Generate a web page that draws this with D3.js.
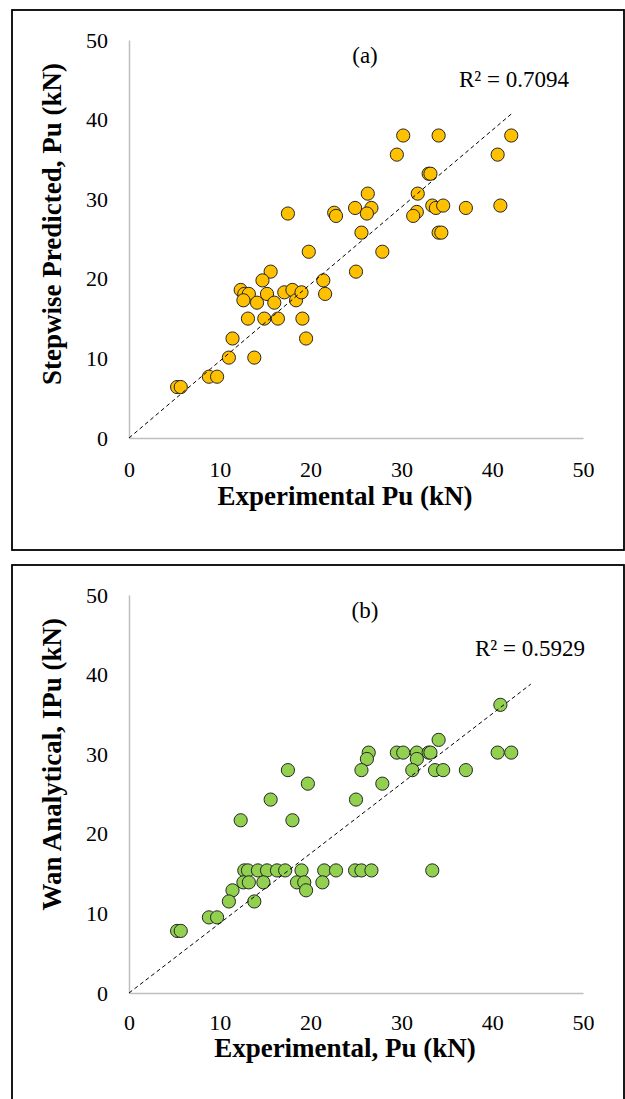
<!DOCTYPE html>
<html>
<head>
<meta charset="utf-8">
<script src="https://cdn.jsdelivr.net/npm/d3@7"></script>
<style>
  html, body { margin: 0; padding: 0; background: #ffffff; }
  svg { display: block; }
</style>
</head>
<body>
<div id="chart"></div>
<script>
// Panel (a): experimental vs stepwise predicted Pu (kN)
const expA = [
  30.2, 34.1, 42.1, 29.5, 40.6, 33.0, 33.2, 26.3, 31.8,
  17.5, 22.6, 22.8, 24.9, 26.7, 26.2, 31.7, 31.3, 33.4, 33.8, 34.6, 37.1, 40.9,
  25.6, 34.1, 34.4, 19.8, 27.9, 25.0, 21.4, 21.6, 15.6, 14.7,
  12.3, 12.7, 13.2, 12.6, 14.1, 15.2, 16.0, 17.1, 18.0, 18.4, 19.0,
  13.1, 14.9, 16.4, 19.1, 19.5, 11.4, 11.0, 13.8, 8.8, 9.7, 5.3, 5.7
];
const stepA = [
  38.0, 38.0, 38.0, 35.6, 35.6, 33.2, 33.2, 30.7, 30.7,
  28.2, 28.3, 27.9, 28.9, 28.9, 28.2, 28.4, 27.9, 29.2, 28.9, 29.2, 28.9, 29.2,
  25.8, 25.8, 25.8, 23.4, 23.4, 20.9, 19.8, 18.1, 20.9, 19.8,
  18.6, 18.1, 18.1, 17.3, 17.0, 18.1, 17.0, 18.3, 18.6, 17.3, 18.3,
  15.0, 15.0, 15.0, 15.0, 12.5, 12.5, 10.1, 10.1, 7.7, 7.7, 6.4, 6.4
];
// trendline end points (intercept forced to 0)
const trendA = [[0, 0], [42.1, 40.7]];

// Panel (b): experimental vs Wan analytical Pu (kN)
const expB = [
  40.9, 34.1, 26.4, 29.5, 30.2, 31.7, 33.0, 33.2, 40.6, 42.1,
  26.2, 31.7, 25.6, 31.2, 33.7, 34.6, 37.1, 17.5, 27.9, 19.7, 25.0, 15.6, 12.3, 18.0,
  12.7, 13.1, 14.2, 15.2, 16.3, 17.2, 19.0, 21.5, 22.8, 24.9, 25.6, 26.7, 33.4,
  12.6, 13.2, 14.8, 18.5, 19.3, 21.3,
  19.5, 11.4, 11.0, 13.8, 8.8, 9.7, 5.3, 5.7
];
const wanB = [
  36.2, 31.8, 30.2, 30.2, 30.2, 30.2, 30.2, 30.2, 30.2, 30.2,
  29.4, 29.4, 28.0, 28.0, 28.0, 28.0, 28.0, 28.0, 26.3, 26.3, 24.3, 24.3, 21.7, 21.7,
  15.4, 15.4, 15.4, 15.4, 15.4, 15.4, 15.4, 15.4, 15.4, 15.4, 15.4, 15.4, 15.4,
  13.9, 13.9, 13.9, 13.9, 13.9, 13.9,
  12.9, 12.9, 11.5, 11.5, 9.5, 9.5, 7.8, 7.8
];
const trendB = [[0, 0], [44.25, 38.8]];

const axisTicks = [0, 10, 20, 30, 40, 50];

const serif = "'Liberation Serif', 'Times New Roman', serif";
const width = 625;
const height = 1099;

const svg = d3.select("#chart")
  .append("svg")
  .attr("width", width)
  .attr("height", height)
  .attr("viewBox", `0 0 ${width} ${height}`);

function drawPanel(panel) {
  const x = d3.scaleLinear().domain([0, 50]).range([129, 583]);
  const y = d3.scaleLinear().domain([0, 50]).range([panel.bottom, panel.top]);
  const g = svg.append("g");

  g.append("rect")
    .attr("x", panel.box[0])
    .attr("y", panel.box[1])
    .attr("width", panel.box[2] - panel.box[0])
    .attr("height", panel.box[3] - panel.box[1])
    .attr("fill", "none")
    .attr("stroke", "#000000")
    .attr("stroke-width", 1.8);

  g.append("g")
    .attr("transform", `translate(0,${panel.bottom})`)
    .call(d3.axisBottom(x).tickValues(axisTicks).tickSize(0).tickPadding(panel.xTickPad))
    .call((axis) => axis.select(".domain").attr("stroke", "#bfbfbf").attr("stroke-width", 1.5))
    .call((axis) => axis.selectAll("text")
      .attr("font-family", serif)
      .attr("font-size", 22)
      .attr("fill", "#000000"));

  g.append("g")
    .attr("transform", "translate(129,0)")
    .call(d3.axisLeft(y).tickValues(axisTicks).tickSize(0).tickPadding(21))
    .call((axis) => axis.select(".domain").attr("stroke", "#bfbfbf").attr("stroke-width", 1.5))
    .call((axis) => axis.selectAll("text")
      .attr("font-family", serif)
      .attr("font-size", 22)
      .attr("fill", "#000000"));

  g.selectAll("path").attr("fill", "none");

  g.append("g")
    .selectAll("circle")
    .data(panel.xs.map((value, index) => [value, panel.ys[index]]))
    .join("circle")
    .attr("cx", (d) => x(d[0]))
    .attr("cy", (d) => y(d[1]))
    .attr("r", 6.6)
    .attr("fill", panel.color)
    .attr("stroke", "#262626")
    .attr("stroke-width", 1);

  g.append("path")
    .datum(panel.trend)
    .attr("fill", "none")
    .attr("stroke", "#000000")
    .attr("stroke-width", 1)
    .attr("stroke-dasharray", "4 3")
    .attr("d", d3.line().x((d) => x(d[0])).y((d) => y(d[1])));

  g.append("text")
    .attr("x", 365)
    .attr("y", panel.top + 23)
    .attr("text-anchor", "middle")
    .attr("font-family", serif)
    .attr("font-size", 23)
    .text(panel.label);

  g.append("text")
    .attr("x", panel.r2x)
    .attr("y", panel.r2y)
    .attr("text-anchor", "end")
    .attr("font-family", serif)
    .attr("font-size", 23)
    .text(panel.r2);

  g.append("text")
    .attr("x", 345)
    .attr("y", panel.xTitleY)
    .attr("text-anchor", "middle")
    .attr("font-family", serif)
    .attr("font-size", 27)
    .attr("font-weight", "bold")
    .text(panel.xTitle);

  g.append("text")
    .attr("transform", `translate(61,${panel.top + 23}) rotate(-90)`)
    .attr("text-anchor", "end")
    .attr("font-family", serif)
    .attr("font-size", 27)
    .attr("font-weight", "bold")
    .text(panel.yTitle);
}

drawPanel({
  box: [12, 10, 624, 550],
  top: 40,
  bottom: 438,
  xTickPad: 23,
  xTitleY: 505,
  xs: expA,
  ys: stepA,
  trend: trendA,
  color: "#ffc000",
  label: "(a)",
  r2: "R² = 0.7094",
  r2x: 569,
  r2y: 87,
  xTitle: "Experimental Pu (kN)",
  yTitle: "Stepwise Predicted, Pu (kN)"
});

drawPanel({
  box: [12, 565, 624, 1102],
  top: 595,
  bottom: 993,
  xTickPad: 21,
  xTitleY: 1057,
  xs: expB,
  ys: wanB,
  trend: trendB,
  color: "#92d050",
  label: "(b)",
  r2: "R² = 0.5929",
  r2x: 585,
  r2y: 656,
  xTitle: "Experimental, Pu (kN)",
  yTitle: "Wan Analytical, IPu (kN)"
});
</script>
</body>
</html>
